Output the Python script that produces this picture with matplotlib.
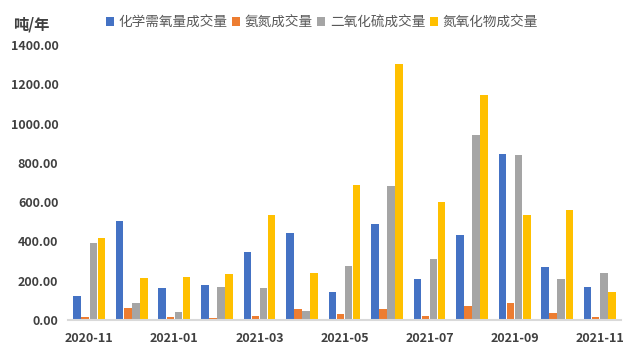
import matplotlib.pyplot as plt
import numpy as np

plt.rcParams['font.family'] = ['Noto Sans CJK SC', 'DejaVu Sans']

months = ["2020-11", "2020-12", "2021-01", "2021-02", "2021-03", "2021-04", "2021-05",
          "2021-06", "2021-07", "2021-08", "2021-09", "2021-10", "2021-11"]
cod = [122, 504, 163, 178, 346, 443, 143, 489, 209, 433, 845, 270, 168]
nh3n = [15, 60, 15, 10, 20, 56, 30, 56, 20, 71, 86, 36, 15]
so2 = [392, 87, 40, 168, 163, 46, 275, 682, 310, 941, 840, 209, 239]
nox = [417, 214, 219, 234, 534, 239, 687, 1303, 600, 1145, 534, 560, 143]

series = [
    ("化学需氧量成交量", cod, "#4472C4"),
    ("氨氮成交量", nh3n, "#ED7D31"),
    ("二氧化硫成交量", so2, "#A5A5A5"),
    ("氮氧化物成交量", nox, "#FFC000"),
]

fig = plt.figure(figsize=(6.4, 3.51), dpi=100)
ax = fig.add_axes([68 / 640, 31 / 351, 553 / 640, 275 / 351])

x = np.arange(len(months))
w = 0.19
for i, (name, vals, color) in enumerate(series):
    ax.bar(x + (i - 1.5) * w, vals, width=w * 0.94, color=color, label=name)

ax.set_xlim(-0.5, len(months) - 0.5)
ax.set_ylim(0, 1400)
ax.set_yticks(np.arange(0, 1401, 200))
ax.set_yticklabels([f"{v:.2f}" for v in np.arange(0, 1401, 200)])
ax.set_xticks(x[::2])
ax.set_xticklabels(months[::2])

for s in ["top", "right", "left"]:
    ax.spines[s].set_visible(False)
ax.spines["bottom"].set_color("#D9D9D9")
ax.spines["bottom"].set_linewidth(1.5)
ax.tick_params(axis="both", length=0, labelsize=9, colors="#404040")
ax.tick_params(axis="x", pad=9)
ax.tick_params(axis="y", pad=7)
for lbl in ax.get_xticklabels() + ax.get_yticklabels():
    lbl.set_fontweight("bold")

fig.text(13 / 640, 1 - 25 / 351, "吨/年", fontsize=11, color="#404040",
         fontweight="bold", va="center")
fig.legend(loc="center left", bbox_to_anchor=(106 / 640, 1 - 22 / 351), ncol=4,
           frameon=False, fontsize=9.8, borderpad=0, borderaxespad=0,
           handlelength=0.6, handleheight=0.6, handletextpad=0.35,
           columnspacing=0.3, labelcolor="#595959")

plt.savefig("out.png", dpi=100)
